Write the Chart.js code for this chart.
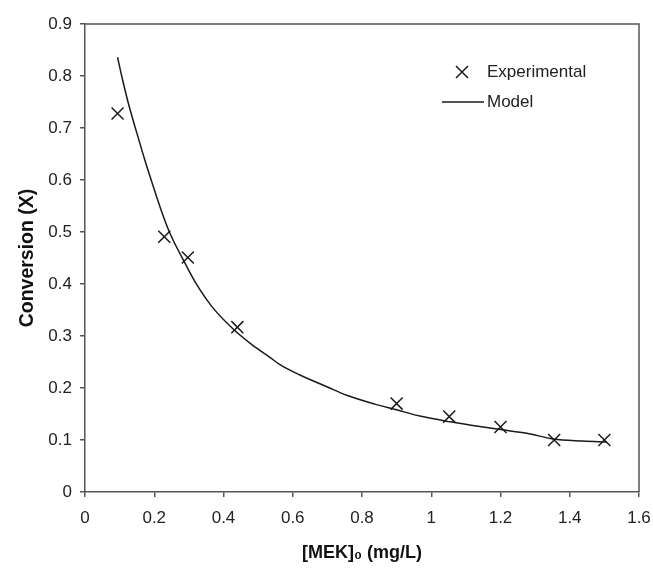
<!DOCTYPE html>
<html>
  <head>
    <meta charset="UTF-8" />
    <title>Conversion vs [MEK]0</title>
    <script src="https://cdn.jsdelivr.net/npm/chart.js"></script>
    <style>
      body {
        margin: 0;
        padding: 0;
        background: #fff;
        font-family: Arial, "Liberation Sans", sans-serif;
      }
      canvas {
        display: block;
      }
    </style>
  </head>
  <body>
    <canvas id="myChart" width="653" height="576"></canvas>
    <script>
      // experimental points
      const expX = [0.094, 0.229, 0.297, 0.44, 0.90, 1.052, 1.20, 1.355, 1.50];
      const expY = [0.728, 0.491, 0.451, 0.317, 0.17, 0.145, 0.125, 0.10, 0.10];

      // model curve
      const modelX = [0.094, 0.106, 0.125, 0.149, 0.173, 0.197, 0.221, 0.245, 0.284, 0.318, 0.366, 0.424,
                      0.481, 0.534, 0.563, 0.621, 0.70, 0.756, 0.837, 0.90, 0.967, 1.054, 1.12, 1.20,
                      1.276, 1.352, 1.438, 1.507];
      const modelY = [0.836, 0.800, 0.748, 0.692, 0.638, 0.588, 0.540, 0.498, 0.446, 0.404, 0.357, 0.316,
                      0.284, 0.259, 0.245, 0.225, 0.202, 0.186, 0.169, 0.158, 0.146, 0.135, 0.128, 0.120,
                      0.113, 0.102, 0.098, 0.096];

      const xTicks = [0, 0.2, 0.4, 0.6, 0.8, 1, 1.2, 1.4, 1.6];
      const yTicks = [0, 0.1, 0.2, 0.3, 0.4, 0.5, 0.6, 0.7, 0.8, 0.9];

      const ink = '#1a1a1a';
      const axisGrey = '#555';
      const fontFam = 'Arial, "Liberation Sans", sans-serif';

      // box round the plot + legend inside the plot, upper right
      const frameAndLegend = {
        id: 'frameAndLegend',
        afterDraw(chart) {
          const { ctx, chartArea: a } = chart;
          ctx.save();
          ctx.strokeStyle = axisGrey;
          ctx.lineWidth = 1.5;
          ctx.beginPath();
          ctx.moveTo(a.left, a.top);
          ctx.lineTo(a.right, a.top);
          ctx.lineTo(a.right, a.bottom);
          ctx.stroke();

          const tx = a.right - 152;
          const y1 = a.top + 48;
          const y2 = a.top + 78;
          ctx.strokeStyle = ink;
          ctx.lineWidth = 1.5;
          // cross marker
          const r = 6;
          const mx = tx - 25;
          ctx.beginPath();
          ctx.moveTo(mx - r, y1 - r); ctx.lineTo(mx + r, y1 + r);
          ctx.moveTo(mx - r, y1 + r); ctx.lineTo(mx + r, y1 - r);
          ctx.stroke();
          // line sample
          ctx.beginPath();
          ctx.moveTo(tx - 45, y2);
          ctx.lineTo(tx - 3, y2);
          ctx.stroke();

          ctx.fillStyle = '#222';
          ctx.font = '17px ' + fontFam;
          ctx.textAlign = 'left';
          ctx.textBaseline = 'middle';
          ctx.fillText(chart.data.datasets[0].label, tx, y1);
          ctx.fillText(chart.data.datasets[1].label, tx, y2);
          ctx.restore();
        }
      };

      const ctx = document.getElementById('myChart').getContext('2d');
      new Chart(ctx, {
        type: 'scatter',
        data: {
          datasets: [
            {
              label: 'Experimental',
              data: expX.map((x, i) => ({ x: x, y: expY[i] })),
              pointStyle: 'crossRot',
              pointRadius: 8.5,
              pointBorderWidth: 1.5,
              borderColor: ink,
              backgroundColor: ink,
              showLine: false
            },
            {
              label: 'Model',
              data: modelX.map((x, i) => ({ x: x, y: modelY[i] })),
              showLine: true,
              borderColor: ink,
              borderWidth: 1.5,
              pointRadius: 0,
              cubicInterpolationMode: 'monotone'
            }
          ]
        },
        options: {
          responsive: false,
          animation: false,
          layout: { padding: { left: 0, top: 24, right: 14, bottom: 0 } },
          plugins: {
            legend: { display: false },
            tooltip: { enabled: false }
          },
          scales: {
            x: {
              type: 'linear',
              min: 0,
              max: 1.6,
              afterBuildTicks: (s) => { s.ticks = xTicks.map(v => ({ value: v })); },
              afterFit: (s) => { s.height = 84; s.paddingRight = 0; s.paddingLeft = 0; },
              grid: { drawOnChartArea: false, drawTicks: true, tickLength: 5, color: axisGrey, lineWidth: 1.5 },
              border: { display: true, color: axisGrey, width: 1.5 },
              ticks: {
                padding: 11,
                color: '#222',
                font: { family: fontFam, size: 17 },
                maxRotation: 0,
                callback: (v) => String(+v.toFixed(1))
              },
              title: {
                display: true,
                text: '[MEK]\u2080 (mg/L)',
                color: '#111',
                font: { family: fontFam, size: 18, weight: 'bold' },
                padding: { top: 0, bottom: 12 }
              }
            },
            y: {
              type: 'linear',
              min: 0,
              max: 0.9,
              afterBuildTicks: (s) => { s.ticks = yTicks.map(v => ({ value: v })); },
              afterFit: (s) => { s.width = 85; s.paddingTop = 0; s.paddingBottom = 0; },
              grid: { drawOnChartArea: false, drawTicks: true, tickLength: 5, color: axisGrey, lineWidth: 1.5 },
              border: { display: true, color: axisGrey, width: 1.5 },
              ticks: {
                padding: 8,
                color: '#222',
                font: { family: fontFam, size: 17 },
                callback: (v) => String(+v.toFixed(1))
              },
              title: {
                display: true,
                text: 'Conversion (X)',
                color: '#111',
                font: { family: fontFam, size: 19.5, weight: 'bold' },
                padding: { top: 16, bottom: 0 }
              }
            }
          }
        },
        plugins: [frameAndLegend]
      });
    </script>
  </body>
</html>
